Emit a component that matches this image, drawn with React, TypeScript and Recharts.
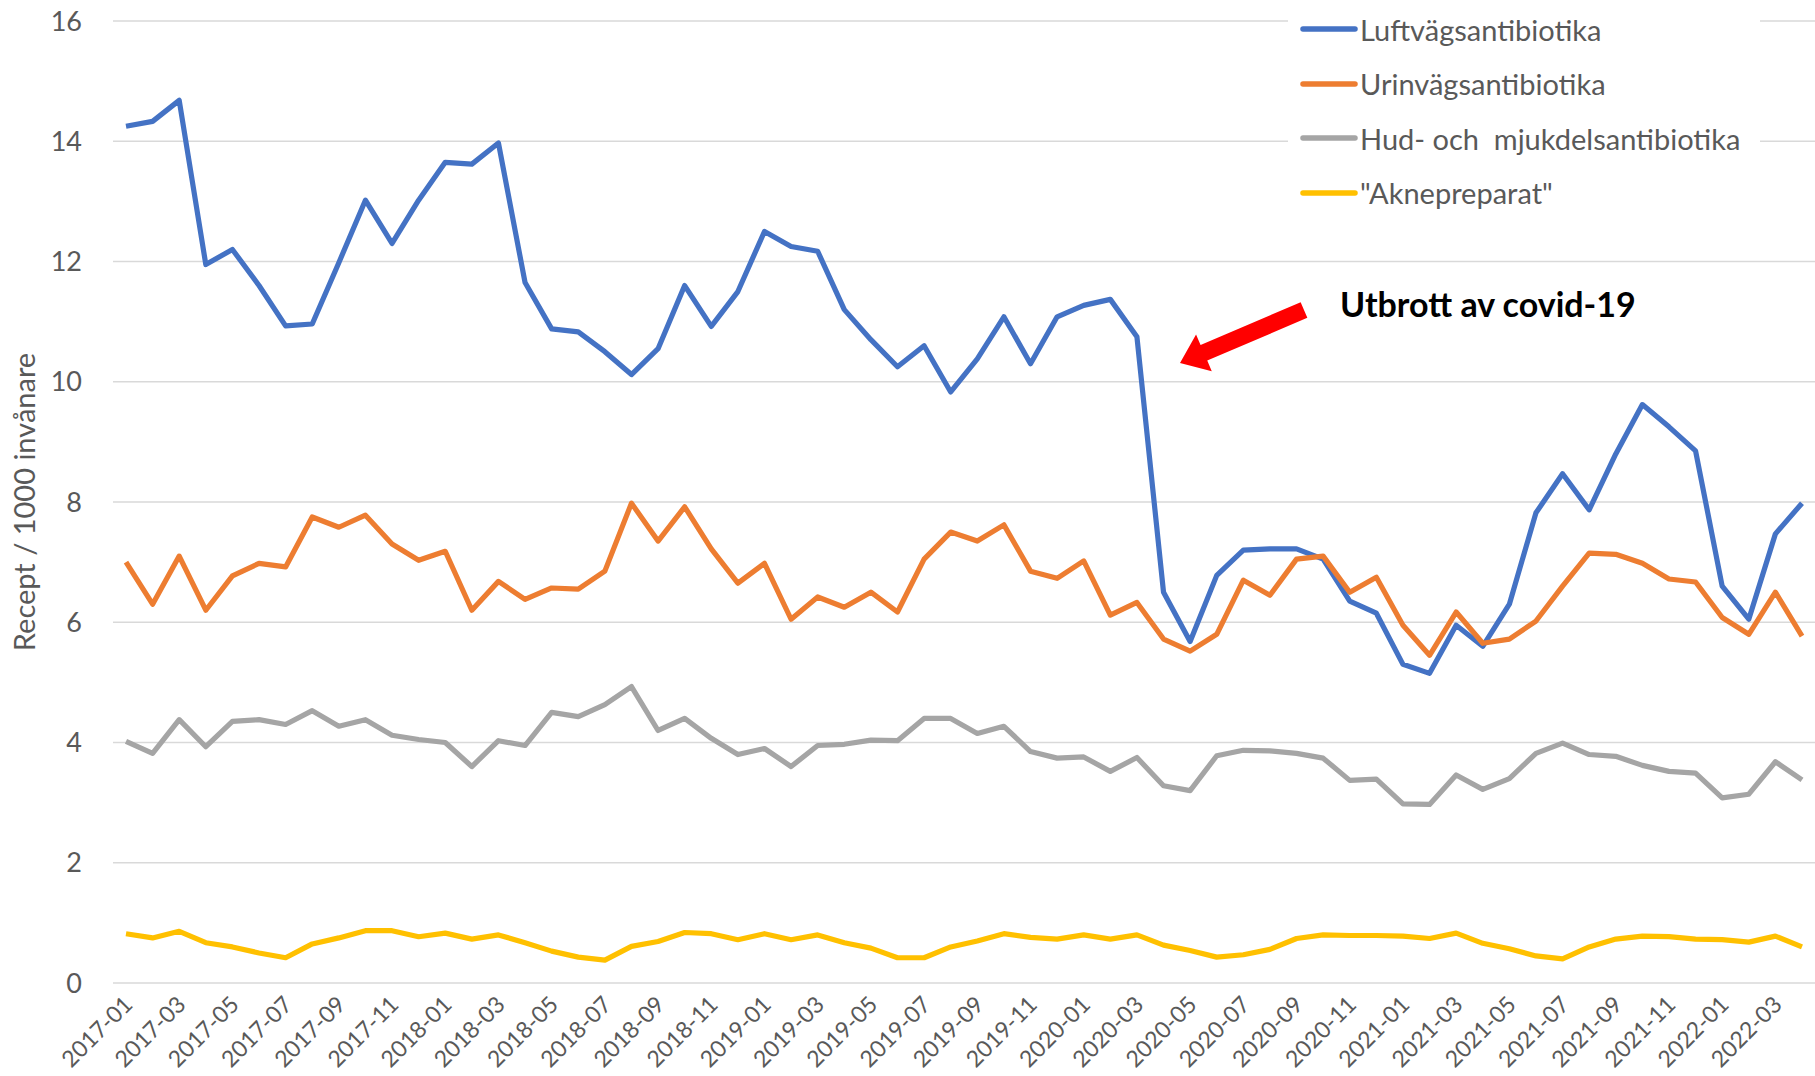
import { LineChart, Line, XAxis, YAxis, CartesianGrid, Legend } from 'recharts';

const months = [
  '2017-01', '2017-02', '2017-03', '2017-04', '2017-05', '2017-06', '2017-07', '2017-08', '2017-09', '2017-10', '2017-11', '2017-12',
  '2018-01', '2018-02', '2018-03', '2018-04', '2018-05', '2018-06', '2018-07', '2018-08', '2018-09', '2018-10', '2018-11', '2018-12',
  '2019-01', '2019-02', '2019-03', '2019-04', '2019-05', '2019-06', '2019-07', '2019-08', '2019-09', '2019-10', '2019-11', '2019-12',
  '2020-01', '2020-02', '2020-03', '2020-04', '2020-05', '2020-06', '2020-07', '2020-08', '2020-09', '2020-10', '2020-11', '2020-12',
  '2021-01', '2021-02', '2021-03', '2021-04', '2021-05', '2021-06', '2021-07', '2021-08', '2021-09', '2021-10', '2021-11', '2021-12',
  '2022-01', '2022-02', '2022-03', '2022-04',
];

const luftvag = [
  14.25, 14.33, 14.68, 11.95, 12.2, 11.6, 10.93, 10.96, 11.98, 13.02, 12.3, 13.02,
  13.65, 13.62, 13.97, 11.65, 10.88, 10.83, 10.5, 10.12, 10.55, 11.6, 10.92, 11.5,
  12.5, 12.25, 12.17, 11.2, 10.7, 10.25, 10.6, 9.83, 10.38, 11.08, 10.3, 11.08,
  11.27, 11.37, 10.75, 6.5, 5.68, 6.78, 7.2, 7.22, 7.22, 7.05, 6.35, 6.15,
  5.3, 5.15, 5.95, 5.6, 6.3, 7.82, 8.47, 7.87, 8.8, 9.62, 9.25, 8.85,
  6.6, 6.05, 7.47, 7.98,
];

const urinvag = [
  7.0, 6.3, 7.1, 6.2, 6.77, 6.98, 6.92, 7.75, 7.58, 7.78, 7.3, 7.03,
  7.18, 6.2, 6.68, 6.38, 6.57, 6.55, 6.85, 7.98, 7.35, 7.92, 7.22, 6.65,
  6.98, 6.05, 6.42, 6.25, 6.5, 6.17, 7.05, 7.5, 7.35, 7.62, 6.85, 6.73,
  7.02, 6.12, 6.33, 5.72, 5.52, 5.8, 6.7, 6.45, 7.05, 7.1, 6.5, 6.75,
  5.95, 5.45, 6.17, 5.65, 5.72, 6.02, 6.6, 7.15, 7.13, 6.98, 6.72, 6.67,
  6.08, 5.8, 6.5, 5.77,
];

const hud = [
  4.02, 3.82, 4.38, 3.93, 4.35, 4.38, 4.3, 4.53, 4.27, 4.38, 4.12, 4.05,
  4.0, 3.6, 4.03, 3.95, 4.5, 4.43, 4.63, 4.93, 4.2, 4.4, 4.07, 3.8,
  3.9, 3.6, 3.95, 3.97, 4.04, 4.03, 4.4, 4.4, 4.15, 4.27, 3.85, 3.74,
  3.76, 3.52, 3.75, 3.28, 3.2, 3.78, 3.87, 3.86, 3.82, 3.74, 3.37, 3.39,
  2.98, 2.97, 3.46, 3.22, 3.4, 3.82, 3.99, 3.8, 3.77, 3.62, 3.52, 3.49,
  3.08, 3.14, 3.68, 3.38,
];

const akne = [
  0.82, 0.75, 0.86, 0.67, 0.6, 0.5, 0.42, 0.65, 0.75, 0.87, 0.87, 0.77,
  0.83, 0.73, 0.8, 0.67, 0.53, 0.43, 0.38, 0.61, 0.69, 0.84, 0.82, 0.72,
  0.82, 0.72, 0.8, 0.67, 0.58, 0.42, 0.42, 0.6, 0.7, 0.82, 0.76, 0.73,
  0.8, 0.73, 0.8, 0.63, 0.54, 0.43, 0.47, 0.56, 0.74, 0.8, 0.79, 0.79,
  0.78, 0.74, 0.83, 0.66, 0.57, 0.45, 0.4, 0.6, 0.73, 0.78, 0.77, 0.73,
  0.72, 0.68, 0.78, 0.6,
];

const yTicks = [0, 2, 4, 6, 8, 10, 12, 14, 16];

const series = [
  { key: 'luft', name: 'Luftvägsantibiotika', color: '#4472C4' },
  { key: 'urin', name: 'Urinvägsantibiotika', color: '#ED7D31' },
  { key: 'hud', name: 'Hud- och  mjukdelsantibiotika', color: '#A5A5A5' },
  { key: 'akne', name: '"Aknepreparat"', color: '#FFC000' },
];

const data = months.map((m, i) => ({
  month: m,
  luft: luftvag[i],
  urin: urinvag[i],
  hud: hud[i],
  akne: akne[i],
}));

const FONT = 'Lato, "Open Sans", sans-serif';
const GREY = '#595959';

const XTick = ({ x, y, payload }: any) => (
  <g transform={`translate(${x + 8},${y + 21})`}>
    <text textAnchor='end' transform='rotate(-45)' fill={GREY} fontSize={23} fontFamily={FONT}>
      {payload.value}
    </text>
  </g>
);

const YLabel = ({ viewBox }: any) => {
  const cx = viewBox.x + 23;
  const cy = viewBox.y + viewBox.height / 2;
  return (
    <text
      x={cx}
      y={cy}
      transform={`rotate(-90, ${cx}, ${cy})`}
      textAnchor='middle'
      dominantBaseline='central'
      fill={GREY}
      fontSize={29}
      fontFamily={FONT}
    >
      Recept / 1000 invånare
    </text>
  );
};

const LegendBox = () => (
  <div style={{ position: 'relative', width: 472, height: 225, background: '#fff' }}>
    {series.map((s, i) => (
      <div key={s.key} style={{ position: 'absolute', left: 12, top: 30 + i * 54.5 - 21, height: 40, display: 'flex', alignItems: 'center' }}>
        <svg width={58} height={10}>
          <line x1={3} y1={5} x2={55} y2={5} stroke={s.color} strokeWidth={5.5} strokeLinecap='round' />
        </svg>
        <span style={{ fontFamily: FONT, fontSize: 29, color: GREY, whiteSpace: 'pre', marginLeft: 2 }}>{s.name}</span>
      </div>
    ))}
  </div>
);

// arrow pointing at the covid drop
const tail = { x: 1304, y: 310 };
const tip = { x: 1180, y: 363 };
const arrowPath = () => {
  const dx = tip.x - tail.x;
  const dy = tip.y - tail.y;
  const len = Math.hypot(dx, dy);
  const ux = dx / len;
  const uy = dy / len;
  const nx = -uy;
  const ny = ux;
  const shaft = 8.5;
  const head = 20;
  const headLen = 26;
  const bx = tip.x - ux * headLen;
  const by = tip.y - uy * headLen;
  const pts = [
    [tail.x + nx * shaft, tail.y + ny * shaft],
    [bx + nx * shaft, by + ny * shaft],
    [bx + nx * head, by + ny * head],
    [tip.x, tip.y],
    [bx - nx * head, by - ny * head],
    [bx - nx * shaft, by - ny * shaft],
    [tail.x - nx * shaft, tail.y - ny * shaft],
  ];
  return pts.map((p) => p.join(',')).join(' ');
};

const App = () => {
  return (
    <div style={{ position: 'absolute', left: 0, top: 0, width: 1815, height: 1076, background: '#fff' }}>
      <LineChart width={1815} height={1076} data={data} margin={{ top: 21, right: 0, bottom: 0, left: 0 }}>
        <CartesianGrid vertical={false} stroke='#d9d9d9' strokeWidth={1.5} />
        <XAxis
          dataKey='month'
          interval={1}
          height={93}
          padding={{ left: 13, right: 13 }}
          axisLine={false}
          tickLine={false}
          tickSize={0}
          tick={<XTick />}
        />
        <YAxis
          width={113}
          domain={[0, 16]}
          ticks={yTicks}
          axisLine={false}
          tickLine={false}
          tickSize={0}
          tickMargin={31}
          tick={{ fill: GREY, fontSize: 27, fontFamily: FONT }}
          label={<YLabel />}
        />
        <Legend
          layout='vertical'
          align='center'
          verticalAlign='middle'
          content={<LegendBox />}
          wrapperStyle={{ position: 'absolute', left: 1288, top: 0, width: 472, height: 225 }}
        />
        {series.map((s) => (
          <Line
            key={s.key}
            type='linear'
            dataKey={s.key}
            name={s.name}
            stroke={s.color}
            strokeWidth={5.2}
            strokeLinejoin='round'
            dot={false}
            isAnimationActive={false}
          />
        ))}
      </LineChart>
      <svg width={1815} height={1076} style={{ position: 'absolute', left: 0, top: 0, pointerEvents: 'none' }}>
        <polygon points={arrowPath()} fill='#FF0000' />
        <text x={1340} y={317} fontFamily={FONT} fontWeight='bold' fontSize={34} fill='#000'>
          Utbrott av covid-19
        </text>
      </svg>
    </div>
  );
};

export default App;
